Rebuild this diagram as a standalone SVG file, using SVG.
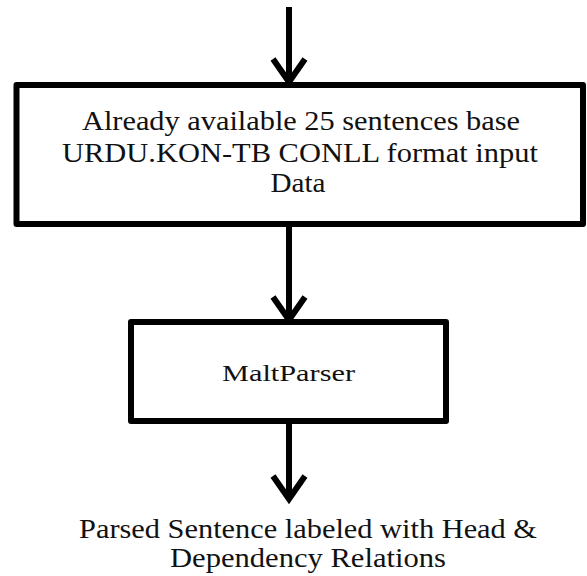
<svg xmlns="http://www.w3.org/2000/svg" width="587" height="576" viewBox="0 0 587 576">
<style>
.box{fill:#fff;stroke:#000;stroke-width:6;stroke-linejoin:round}
.t{font-family:"Liberation Serif","DejaVu Serif",serif;fill:#111;text-anchor:middle}
.c{stroke:#000;stroke-width:6;fill:none}
</style>
<defs>
<marker id="ah" markerUnits="userSpaceOnUse" orient="auto" markerWidth="40" markerHeight="40" refX="0" refY="0" viewBox="-30 -20 40 40" overflow="visible">
<path d="M -24 -16 L -1 0 L -24 16" fill="none" stroke="#000" stroke-width="6" stroke-linejoin="miter"/>
</marker>
</defs>
<rect width="587" height="576" fill="#fff"/>
<g id="connectors">
<line class="c" x1="289" y1="7" x2="289" y2="83" marker-end="url(#ah)"/>
<line class="c" x1="289" y1="224" x2="289" y2="321" marker-end="url(#ah)"/>
<line class="c" x1="289" y1="421" x2="289" y2="500" marker-end="url(#ah)"/>
</g>
<g id="input-data">
<rect class="box" x="16.5" y="85" width="566.5" height="139"/>
<text class="t" font-size="27" x="301" y="130" textLength="438" lengthAdjust="spacingAndGlyphs">Already available 25 sentences base</text>
<text class="t" font-size="27" x="300" y="162" textLength="476" lengthAdjust="spacingAndGlyphs">URDU.KON-TB CONLL format input</text>
<text class="t" font-size="27" x="298" y="192" textLength="55" lengthAdjust="spacingAndGlyphs">Data</text>
</g>
<g id="maltparser">
<rect class="box" x="131" y="322" width="315" height="99"/>
<text class="t" font-size="24" x="288.5" y="381" textLength="133" lengthAdjust="spacingAndGlyphs">MaltParser</text>
</g>
<g id="output">
<text class="t" font-size="27" x="308" y="538" textLength="458" lengthAdjust="spacingAndGlyphs">Parsed Sentence labeled with Head &amp;</text>
<text class="t" font-size="27" x="308" y="567" textLength="276" lengthAdjust="spacingAndGlyphs">Dependency Relations</text>
</g>
</svg>
